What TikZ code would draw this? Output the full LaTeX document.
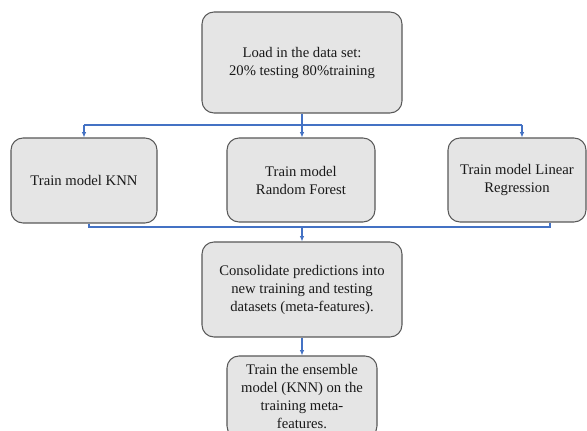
\documentclass[tikz,border=0pt]{standalone}
\usepackage{fontspec}
\setmainfont{Liberation Serif}
\usetikzlibrary{arrows.meta}

\definecolor{linkblue}{HTML}{4472C4}

\begin{document}
\begin{tikzpicture}[x=0.75pt,y=0.75pt,>={Latex[length=4pt,width=3.4pt]},
  box/.style={draw=black!65,fill=black!10,rounded corners=9pt,line width=0.8pt,
    align=center,inner sep=0pt,text=black!90,font=\fontsize{11}{13.5}\selectfont},
  link/.style={draw=linkblue,line width=0.9pt}]
  \useasboundingbox (0,0) rectangle (587,-431);
  \clip (0,0) rectangle (587,-431);
  \fill[white] (0,0) rectangle (587,-431);

  % boxes
  \node[box,minimum width=150pt,minimum height=75.75pt] (load) at (302,-62.5)
    {Load in the data set:\\20\% testing 80\%training};
  \node[box,minimum width=109.5pt,minimum height=63.75pt] (knn) at (84,-180.5)
    {Train model KNN};
  \node[box,minimum width=111pt,minimum height=63pt] (rf) at (301,-180)
    {Train model\\Random Forest};
  \node[box,minimum width=103.5pt,minimum height=63pt] (lr) at (517,-180)
    {Train model Linear\\Regression};
  \node[box,minimum width=150pt,minimum height=71.25pt] (consol) at (302,-289.5)
    {Consolidate predictions into\\new training and testing\\datasets (meta-features).};
  \node[box,minimum width=112.5pt,minimum height=61.5pt] (ensemble) at (302,-397)
    {Train the ensemble\\model (KNN) on the\\training meta-\\features.};

  % split to the three models
  \coordinate (busL) at (84,-125);
  \coordinate (busR) at (522,-125);
  \draw[link] (load.south) -- (load.south |- busL);
  \draw[link] (busL) -- (busR);
  \draw[link,->] (busL) -- (busL |- knn.north);
  \draw[link,->] (load.south |- busL) -- (load.south |- rf.north);
  \draw[link,->] (busR) -- (busR |- lr.north);

  % join into the meta-features
  \coordinate (joinL) at (89,-227);
  \coordinate (joinR) at (550,-227);
  \draw[link] (joinL |- knn.south) -- (joinL) -- (joinR) -- (joinR |- lr.south);
  \draw[link,->] (consol.north |- joinL) -- (consol.north);
  \draw[link,->] (consol.south) -- (ensemble.north);
\end{tikzpicture}
\end{document}
